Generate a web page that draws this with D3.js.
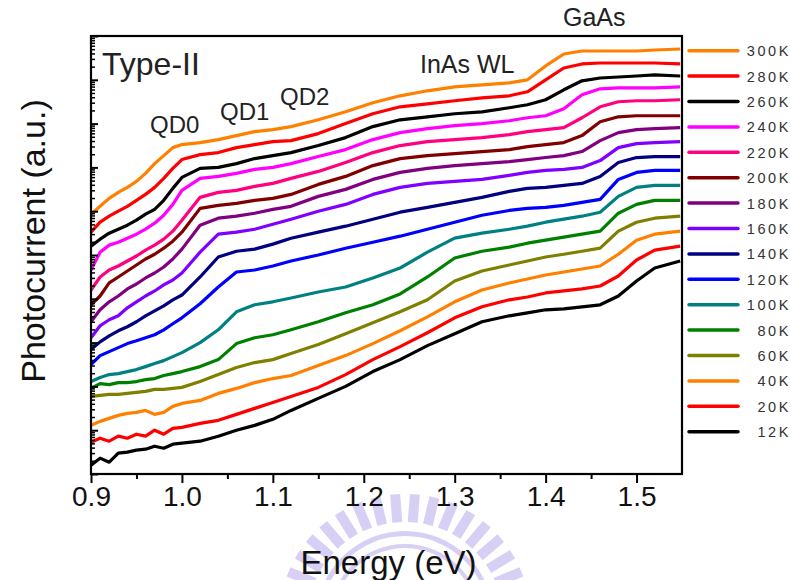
<!DOCTYPE html>
<html><head><meta charset="utf-8">
<script src="https://cdn.jsdelivr.net/npm/d3@7"></script>
<style>html,body{margin:0;padding:0;background:#fff;} svg{display:block;font-family:"Liberation Sans",Arial,sans-serif;}</style>
</head><body><svg id="c" width="790" height="580"></svg>
<script>
const energy = [0.90,0.91,0.92,0.93,0.94,0.95,0.96,0.97,0.98,0.99,1.00,1.02,1.04,1.06,1.08,1.10,1.12,1.15,1.18,1.21,1.24,1.27,1.30,1.33,1.36,1.38,1.40,1.42,1.44,1.46,1.48,1.50,1.52,1.548];

const pc300 = [8.5e-5,1.3e-4,1.96e-4,2.69e-4,3.5e-4,4.79e-4,7.3e-4,1.22e-3,1.86e-3,2.83e-3,3.32e-3,3.68e-3,4.31e-3,5.32e-3,6.57e-3,7.3e-3,8.54e-3,1.22e-2,1.86e-2,2.99e-2,4.31e-2,5.61e-2,6.92e-2,7.69e-2,8.54e-2,1.0e-1,2.07e-1,3.88e-1,4.55e-1,4.55e-1,4.55e-1,4.55e-1,4.79e-1,5.05e-1];
const pc280 = [3.32e-5,5.61e-5,7.69e-5,1.0e-4,1.29e-4,1.77e-4,2.42e-4,3.5e-4,5.61e-4,9.49e-4,1.51e-3,1.96e-3,2.18e-3,2.83e-3,3.32e-3,3.88e-3,4.09e-3,5.91e-3,1.0e-2,1.68e-2,2.42e-2,2.83e-2,3.32e-2,3.88e-2,4.31e-2,5.32e-2,1.0e-1,1.86e-1,2.3e-1,2.42e-1,2.42e-1,2.42e-1,2.42e-1,2.3e-1];
const pc260 = [1.59e-5,2.3e-5,3.15e-5,3.88e-5,4.79e-5,6.23e-5,8.54e-5,1.1e-4,1.77e-4,3.32e-4,5.91e-4,9.49e-4,1.0e-3,1.22e-3,1.59e-3,1.86e-3,2.18e-3,3.15e-3,4.79e-3,8.54e-3,1.22e-2,1.43e-2,1.68e-2,1.86e-2,2.3e-2,2.69e-2,3.5e-2,5.91e-2,9.49e-2,1.1e-1,1.16e-1,1.22e-1,1.29e-1,1.22e-1];
const pc240 = [4.55e-6,1.16e-5,1.68e-5,1.96e-5,2.42e-5,2.99e-5,3.88e-5,5.32e-5,8.1e-5,1.43e-4,2.99e-4,5.61e-4,6.23e-4,7.3e-4,9.0e-4,1.0e-3,1.22e-3,1.77e-3,2.55e-3,4.31e-3,6.23e-3,7.69e-3,9.0e-3,1.0e-2,1.16e-2,1.36e-2,1.51e-2,2.18e-2,4.55e-2,6.23e-2,6.57e-2,6.57e-2,6.57e-2,6.92e-2];
const pc220 = [1.59e-6,3.15e-6,4.55e-6,5.61e-6,7.3e-6,9.49e-6,1.29e-5,1.68e-5,2.3e-5,3.5e-5,6.23e-5,2.07e-4,2.69e-4,2.99e-4,3.68e-4,4.31e-4,5.61e-4,8.1e-4,1.29e-3,2.18e-3,3.15e-3,3.88e-3,4.31e-3,4.79e-3,5.61e-3,6.57e-3,7.3e-3,8.1e-3,1.36e-2,2.42e-2,3.15e-2,3.32e-2,3.32e-2,3.5e-2];
const pc200 = [7.3e-7,1.16e-6,2.3e-6,3.15e-6,4.31e-6,5.91e-6,8.1e-6,1.04e-5,1.43e-5,2.07e-5,3.32e-5,1.16e-4,1.36e-4,1.51e-4,1.77e-4,1.96e-4,2.42e-4,4.09e-4,6.23e-4,1.1e-3,1.59e-3,1.86e-3,2.07e-3,2.3e-3,2.55e-3,2.99e-3,3.32e-3,3.68e-3,5.32e-3,1.1e-2,1.43e-2,1.51e-2,1.51e-2,1.51e-2];
const pc180 = [2.99e-7,5.61e-7,8.54e-7,1.16e-6,1.68e-6,2.18e-6,2.99e-6,3.88e-6,5.32e-6,8.1e-6,1.36e-5,4.79e-5,6.92e-5,7.69e-5,9.0e-5,1.1e-4,1.29e-4,2.18e-4,3.15e-4,5.32e-4,7.69e-4,9.49e-4,1.1e-3,1.22e-3,1.36e-3,1.51e-3,1.68e-3,1.86e-3,2.3e-3,4.09e-3,6.23e-3,7.3e-3,7.69e-3,8.1e-3];
const pc160 = [1.29e-7,2.42e-7,3.32e-7,4.09e-7,6.23e-7,8.54e-7,1.16e-6,1.51e-6,2.07e-6,2.69e-6,3.88e-6,1.16e-5,2.99e-5,3.32e-5,3.88e-5,5.05e-5,6.57e-5,1.0e-4,1.43e-4,2.42e-4,3.5e-4,4.31e-4,4.79e-4,5.32e-4,6.57e-4,7.69e-4,8.54e-4,9.0e-4,1.0e-3,1.43e-3,2.83e-3,3.5e-3,3.68e-3,3.88e-3];
const pc140 = [6.92e-8,1.04e-7,1.43e-7,1.86e-7,2.3e-7,2.99e-7,4.09e-7,5.32e-7,6.92e-7,9.49e-7,1.22e-6,3.15e-6,9.0e-6,1.22e-5,1.36e-5,1.77e-5,2.42e-5,3.32e-5,4.55e-5,6.57e-5,9.49e-5,1.22e-4,1.59e-4,2.07e-4,2.83e-4,3.32e-4,3.5e-4,3.88e-4,4.31e-4,6.23e-4,1.29e-3,1.68e-3,1.77e-3,1.77e-3];
const pc120 = [3.15e-8,5.05e-8,6.23e-8,7.69e-8,9.49e-8,1.1e-7,1.29e-7,1.51e-7,1.96e-7,2.69e-7,3.68e-7,7.69e-7,1.86e-6,4.09e-6,4.55e-6,5.61e-6,7.3e-6,1.0e-5,1.43e-5,1.96e-5,2.69e-5,3.88e-5,5.61e-5,8.1e-5,1.04e-4,1.16e-4,1.22e-4,1.36e-4,1.59e-4,1.86e-4,5.32e-4,7.69e-4,8.54e-4,8.54e-4];
const pc100 = [1.29e-8,1.59e-8,1.86e-8,1.96e-8,2.18e-8,2.42e-8,2.83e-8,3.32e-8,3.88e-8,4.79e-8,5.91e-8,1.0e-7,1.96e-7,5.05e-7,7.3e-7,8.54e-7,1.04e-6,1.43e-6,1.86e-6,2.99e-6,5.05e-6,1.16e-5,2.42e-5,3.15e-5,3.88e-5,4.55e-5,5.61e-5,6.57e-5,7.69e-5,9.49e-5,2.18e-4,3.5e-4,3.88e-4,3.88e-4];
const pc80 = [9.0e-9,1.16e-8,1.1e-8,1.22e-8,1.22e-8,1.29e-8,1.43e-8,1.51e-8,1.77e-8,1.96e-8,2.18e-8,2.83e-8,4.09e-8,9.49e-8,1.29e-7,1.51e-7,1.96e-7,2.99e-7,4.79e-7,7.3e-7,1.29e-6,3.15e-6,8.54e-6,1.22e-5,1.51e-5,1.86e-5,2.18e-5,2.55e-5,2.99e-5,3.5e-5,9.0e-5,1.43e-4,1.77e-4,1.77e-4];
const pc60 = [5.91e-9,6.23e-9,6.57e-9,6.57e-9,6.92e-9,7.3e-9,7.69e-9,8.54e-9,8.54e-9,9.0e-9,9.49e-9,1.29e-8,1.86e-8,2.69e-8,3.5e-8,4.09e-8,5.61e-8,9.0e-8,1.59e-7,2.83e-7,5.05e-7,9.49e-7,2.55e-6,4.31e-6,5.91e-6,7.3e-6,9.0e-6,1.04e-5,1.22e-5,1.43e-5,3.5e-5,5.61e-5,6.92e-5,7.69e-5];
const pc40 = [1.29e-9,1.59e-9,1.86e-9,2.18e-9,2.42e-9,2.55e-9,2.83e-9,2.3e-9,2.55e-9,3.5e-9,4.09e-9,4.79e-9,6.92e-9,9.0e-9,1.22e-8,1.51e-8,1.77e-8,2.99e-8,5.05e-8,9.49e-8,1.86e-7,3.88e-7,8.54e-7,1.59e-6,2.3e-6,2.83e-6,3.5e-6,4.09e-6,4.79e-6,5.61e-6,1.04e-5,2.18e-5,2.99e-5,3.5e-5];
const pc20 = [5.32e-10,6.57e-10,5.61e-10,7.3e-10,6.57e-10,8.1e-10,7.3e-10,1.0e-9,8.1e-10,1.1e-9,1.16e-9,1.43e-9,1.68e-9,2.3e-9,3.15e-9,4.31e-9,5.91e-9,9.49e-9,1.86e-8,4.09e-8,8.1e-8,1.68e-7,3.68e-7,6.57e-7,9.49e-7,1.1e-6,1.36e-6,1.51e-6,1.68e-6,1.96e-6,3.32e-6,7.69e-6,1.29e-5,1.59e-5];
const pc12 = [1.59e-10,2.3e-10,1.86e-10,2.99e-10,3.15e-10,3.5e-10,3.68e-10,4.31e-10,3.88e-10,4.79e-10,5.05e-10,5.61e-10,7.3e-10,1.0e-9,1.29e-9,1.77e-9,2.83e-9,5.32e-9,1.0e-8,2.18e-8,4.09e-8,8.54e-8,1.59e-7,2.99e-7,4.09e-7,4.79e-7,5.61e-7,5.91e-7,6.57e-7,7.3e-7,1.16e-6,2.55e-6,5.05e-6,7.3e-6];

const seriesLabels = ["300K","280K","260K","240K","220K","200K","180K","160K","140K","120K","100K","80K","60K","40K","20K","12K"];
const seriesColors = ["#FF8000","#FF0000","#000000","#FF00FF","#FF0080","#800000","#800080","#8000FF","#000080","#0000FF","#008080","#008000","#808000","#FF8000","#FF0000","#000000"];
const seriesValues = [pc300,pc280,pc260,pc240,pc220,pc200,pc180,pc160,pc140,pc120,pc100,pc80,pc60,pc40,pc20,pc12];
const xTicks = [0.9,1.0,1.1,1.2,1.3,1.4,1.5];
const xMinor = [0.95,1.05,1.15,1.25,1.35,1.45];
const annotations = [
  {text:"Type-II", x:102, y:75, size:32},
  {text:"QD0", x:150, y:133, size:24},
  {text:"QD1", x:220, y:120, size:24},
  {text:"QD2", x:280, y:105, size:24},
  {text:"InAs WL", x:420, y:73, size:25},
  {text:"GaAs", x:563, y:26, size:25}
];

const svg = d3.select("#c");
const L = 91, R = 682, T = 36, B = 474;
const x = d3.scaleLinear().domain([0.9, 1.55]).range([L, R]);
const y = d3.scaleLog().domain([1e-10, 1]).range([B, T]);

// faint watermark emblem
const wm = svg.append("g").attr("fill", "none").attr("stroke", "#d8cff5");
const wcx = 405, wcy = 620, nR = 20;
for (let i = 0; i < nR; i++) {
  const a = Math.PI * (1 + (i + 0.5) / nR);
  wm.append("line")
    .attr("x1", wcx + 98 * Math.cos(a)).attr("y1", wcy + 98 * Math.sin(a))
    .attr("x2", wcx + 126 * Math.cos(a)).attr("y2", wcy + 126 * Math.sin(a))
    .attr("stroke-width", 10);
}
wm.append("path").attr("d", d3.arc()({innerRadius: 84, outerRadius: 89, startAngle: -Math.PI / 2, endAngle: Math.PI / 2}))
  .attr("transform", `translate(${wcx},${wcy})`).attr("fill", "#d8cff5").attr("stroke", "none");
wm.append("path").attr("d", d3.arc()({innerRadius: 72, outerRadius: 76, startAngle: -Math.PI / 2, endAngle: Math.PI / 2}))
  .attr("transform", `translate(${wcx},${wcy})`).attr("fill", "#d8cff5").attr("stroke", "none");

svg.append("clipPath").attr("id", "clip").append("rect")
  .attr("x", L).attr("y", T).attr("width", R - L).attr("height", B - T);

const line = d3.line().x((d, i) => x(energy[i])).y(d => y(d));
const gLines = svg.append("g").attr("clip-path", "url(#clip)");
seriesValues.forEach((vals, k) => {
  gLines.append("path").attr("d", line(vals)).attr("fill", "none")
    .attr("stroke", seriesColors[k]).attr("stroke-width", 3.2)
    .attr("stroke-linejoin", "round");
});

// bottom axis
const axB = svg.append("g").attr("transform", `translate(0,${B})`)
  .call(d3.axisBottom(x).tickValues(xTicks).tickSize(9).tickPadding(3).tickFormat(d3.format(".1f")));
axB.select(".domain").remove();
axB.selectAll("line").attr("stroke", "#000").attr("stroke-width", 2);
axB.selectAll("text").attr("font-size", 28).attr("fill", "#111").attr("font-family", "'Liberation Sans',Arial,sans-serif");
const axBm = svg.append("g").attr("transform", `translate(0,${B})`)
  .call(d3.axisBottom(x).tickValues(xMinor).tickSize(5).tickFormat(""));
axBm.select(".domain").remove();
axBm.selectAll("line").attr("stroke", "#000").attr("stroke-width", 2);

// left axis (log, no labels)
const decades = d3.range(-10, 1).map(e => Math.pow(10, e));
const minors = [];
for (let e = -10; e < 0; e++) for (let m = 2; m <= 9; m++) minors.push(m * Math.pow(10, e));
const axL = svg.append("g").attr("transform", `translate(${L},0)`)
  .call(d3.axisLeft(y).tickValues(decades).tickSize(-7).tickFormat(""));
axL.select(".domain").remove();
axL.selectAll("line").attr("stroke", "#000").attr("stroke-width", 2);
const axLm = svg.append("g").attr("transform", `translate(${L},0)`)
  .call(d3.axisLeft(y).tickValues(minors).tickSize(-4).tickFormat(""));
axLm.select(".domain").remove();
axLm.selectAll("line").attr("stroke", "#000").attr("stroke-width", 1.5);

// frame
svg.append("rect").attr("x", L).attr("y", T).attr("width", R - L).attr("height", B - T)
  .attr("fill", "none").attr("stroke", "#000").attr("stroke-width", 2.2);

// axis titles
svg.append("text").attr("x", (L + R) / 2 + 2).attr("y", 574).attr("text-anchor", "middle")
  .attr("font-size", 33).attr("fill", "#111").text("Energy (eV)");
svg.append("text").attr("transform", `translate(45,241) rotate(-90)`)
  .attr("text-anchor", "middle").attr("font-size", 34).attr("fill", "#111").text("Photocurrent (a.u.)");

// annotations
annotations.forEach(a => {
  svg.append("text").attr("x", a.x).attr("y", a.y).attr("font-size", a.size)
    .attr("fill", "#222").text(a.text);
});

// legend
const lg = svg.append("g");
seriesLabels.forEach((lab, i) => {
  const yy = 50.7 + i * 25.4;
  lg.append("line").attr("x1", 689).attr("x2", 738).attr("y1", yy).attr("y2", yy)
    .attr("stroke", seriesColors[i]).attr("stroke-width", 3.5).attr("stroke-linecap", "round");
  lg.append("text").attr("x", 791).attr("y", yy + 5.5).attr("text-anchor", "end")
    .attr("font-size", 14.5).attr("letter-spacing", 2.6).attr("fill", "#333").text(lab);
});
</script></body></html>
